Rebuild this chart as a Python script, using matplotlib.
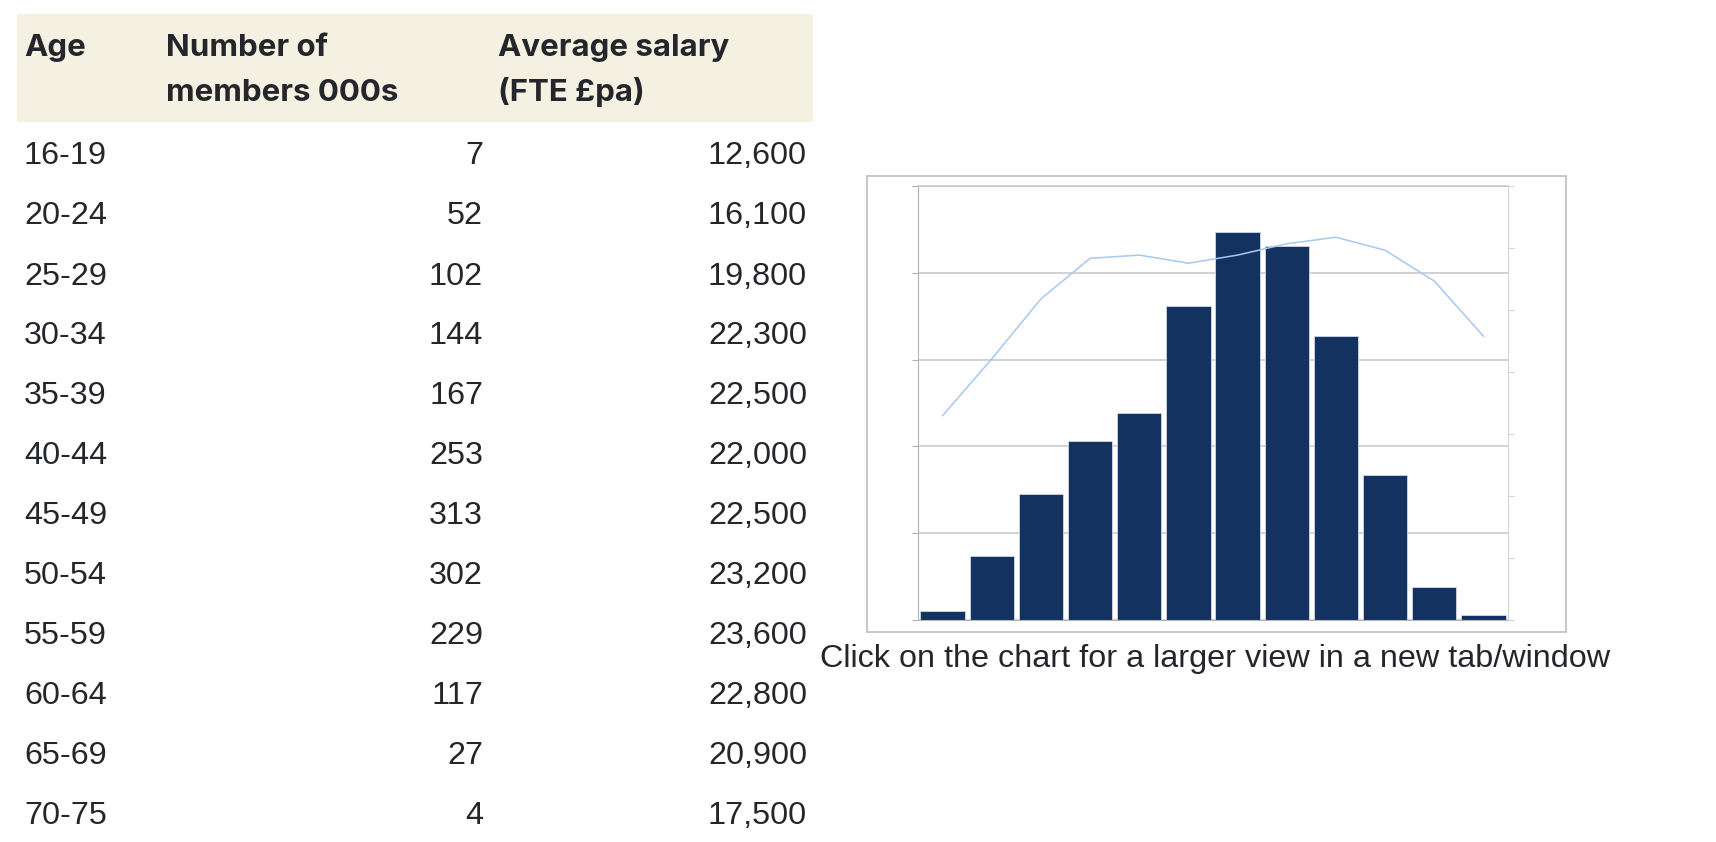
"""
members_by_age.py - table of members by age band next to a combined bar/line chart
Run: python plot.py
"""
import numpy as np
import matplotlib.pyplot as plt
from matplotlib.patches import Rectangle

ages = ["16-19", "20-24", "25-29", "30-34", "35-39", "40-44",
        "45-49", "50-54", "55-59", "60-64", "65-69", "70-75"]
members = [7, 52, 102, 144, 167, 253, 313, 302, 229, 117, 27, 4]          # 000s
salary = [12600, 16100, 19800, 22300, 22500, 22000,
          22500, 23200, 23600, 22800, 20900, 17500]                        # FTE £pa
headers = [("Age", ""), ("Number of", "members 000s"), ("Average salary", "(FTE £pa)")]
caption = "Click on the chart for a larger view in a new tab/window"

W, H = 1716, 842
TXT = "#24262b"
BAR = "#14325f"
LINE = "#a6c8f2"
GRID = "#c6c6c6"


def fx(px):
    return px / W


def fy(py):
    return 1 - py / H


fig = plt.figure(figsize=(W / 100, H / 100), dpi=100)

# ---- table -------------------------------------------------------------
fig.patches.append(Rectangle((fx(16.5), fy(121.5)), fx(813) - fx(16.5), fy(14) - fy(121.5),
                             transform=fig.transFigure, facecolor="#f4f1e2",
                             edgecolor="none", zorder=-1))
head_x = [24, 166.5, 498]
for x, (l1, l2) in zip(head_x, headers):
    fig.text(fx(x), fy(56), l1, family="Inter", weight="bold", fontsize=22.5,
             color=TXT, va="baseline", ha="left")
    if l2:
        fig.text(fx(x), fy(101), l2, family="Inter", weight="bold", fontsize=22.5,
                 color=TXT, va="baseline", ha="left")

for i, (a, m, s) in enumerate(zip(ages, members, salary)):
    yb = fy(164.5 + 60 * i)
    kw = dict(family="Liberation Sans", fontsize=23.3, color=TXT, va="baseline")
    fig.text(fx(24), yb, a, ha="left", **kw)
    fig.text(fx(483), yb, f"{m}", ha="right", **kw)
    fig.text(fx(807), yb, f"{s:,}", ha="right", **kw)

# ---- chart -------------------------------------------------------------
fig.patches.append(Rectangle((fx(867), fy(631.5)), fx(1566) - fx(867), fy(175.5) - fy(631.5),
                             transform=fig.transFigure, facecolor="none",
                             edgecolor="#bdbdbd", linewidth=1.2, zorder=-1))

ax = fig.add_axes([fx(918), fy(620), fx(1508) - fx(918), fy(186) - fy(620)])
ax.set_facecolor("none")
x = np.arange(len(ages))
ax.bar(x, members, width=0.9, color=BAR, edgecolor="#cfd8e4", linewidth=0.6, zorder=2)
ax.set_xlim(-0.5, len(ages) - 0.5)
ax.set_ylim(0, 350)
ax.set_yticks(np.linspace(0, 350, 6))
ax.yaxis.grid(True, color=GRID, linewidth=1.1, zorder=0)
ax.set_axisbelow(True)
ax.set_xticks([])
ax.tick_params(axis="y", length=4, color="#b0b0b0", labelleft=False)
for side in ["left", "bottom"]:
    ax.spines[side].set_color("#b5b5b5")
ax.spines["top"].set_color(GRID)     # top gridline sits on the axis edge
ax.spines["top"].set_linewidth(1.1)
ax.spines["right"].set_visible(False)

ax2 = ax.twinx()
ax2.plot(x, salary, color=LINE, linewidth=1.1, zorder=3)
ax2.set_ylim(0, 26760)
ax2.set_yticks(np.linspace(0, 26760, 8))
ax2.tick_params(axis="y", length=4, color="#d4d4d4", labelright=False)
ax2.spines["right"].set_color("#d4d4d4")
for side in ["left", "top", "bottom"]:
    ax2.spines[side].set_visible(False)

fig.text(fx(820), fy(667.5), caption, family="Liberation Sans", fontsize=23.3,
         color=TXT, va="baseline", ha="left")

plt.savefig("out.png", dpi=100)
plt.close()
